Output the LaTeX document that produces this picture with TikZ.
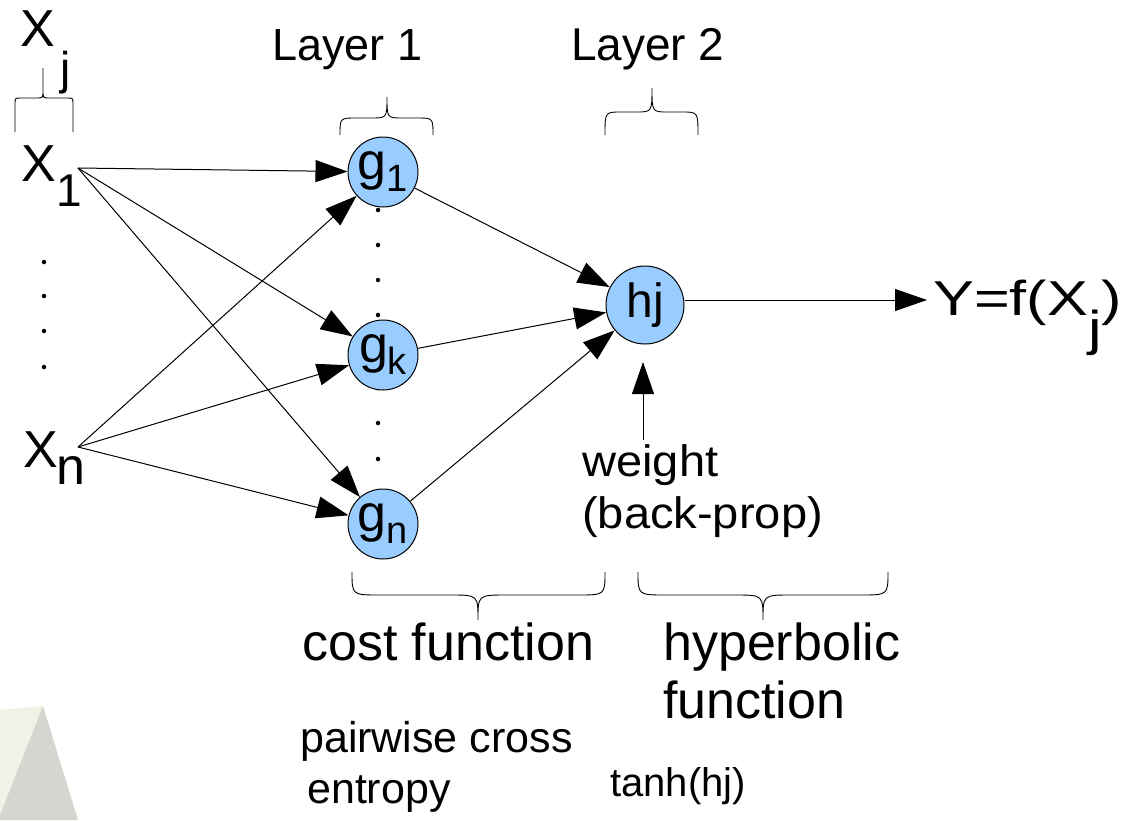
\documentclass[tikz,border=0pt]{standalone}
\usepackage{fontspec}
\setmainfont{Liberation Sans}
\usetikzlibrary{arrows.meta}
\definecolor{nodeblue}{RGB}{153,204,255}
\definecolor{trigray}{RGB}{214,214,208}
\definecolor{trilight}{RGB}{241,241,230}
\newcommand{\fsz}[1]{\fontsize{#1}{#1}\selectfont}
\begin{document}
\begin{tikzpicture}[x=1pt,y=-1pt,
  neuron/.style={circle, draw=black, line width=1pt, fill=nodeblue, inner sep=0pt, minimum size=70pt, font=\fsz{52}},
  conn/.style={line width=1pt, -{Triangle[length=32pt,width=22pt]}},
  brace/.style={line width=0.9pt},
  lbl/.style={anchor=base west, inner sep=0pt},
  dotmark/.style={circle, fill=black, inner sep=0pt, minimum size=4.5pt}]
\useasboundingbox (0,0) rectangle (1128,820);
% background decoration
\fill[trilight] (0,710) -- (43,706) -- (0,815) -- cycle;
\fill[trigray] (43,706) -- (78,820) -- (0,820) -- (0,815) -- cycle;

% dots between inputs
\foreach \yy/\nm in {262/a,296/b,331/c,367/d}
  \node[dotmark] (xd\nm) at (44,\yy) {};
% dots between layer-1 neurons
\foreach \yy/\nm in {210/a,245/b,280/c,315/d,388/e,423/f,459/g,495/h}
  \node[dotmark] (gd\nm) at (378,\yy) {};

% neurons
\node[neuron] (g1) at (383,172) {g\raisebox{-12pt}{\fsz{38}1}};
\node[neuron] (gk) at (383,355) {g\raisebox{-12pt}{\fsz{38}k}};
\node[neuron] (gn) at (383,524) {g\raisebox{-12pt}{\fsz{38}n}};
\node[neuron, minimum size=78pt, font=\fsz{48}] (hj) at (645,305) {hj};

% input labels
\node[lbl,font=\fsz{52}] (xj) at (20,46) {X};
\node[lbl,font=\fsz{46}] (xjsub) at (60,84) {j};
\node[lbl,font=\fsz{52}] (x1) at (21,181) {X};
\node[lbl,font=\fsz{46}] (x1sub) at (56,206) {1};
\node[lbl,font=\fsz{52}] (xn) at (23,467) {X};
\node[lbl,font=\fsz{52}] (xnsub) at (56,484) {n};
\coordinate (x1s) at (78,168);
\coordinate (xns) at (78,447);

% layer labels
\node[lbl,font=\fsz{45}] (layer1) at (272,60) {Layer 1};
\node[lbl,font=\fsz{46}] (layer2) at (571,60) {Layer 2};

% output
\node[lbl] (yout) at (933,315) {\scalebox{1.25}[1]{\fsz{49}Y=f(X\raisebox{-30pt}{j})}};
\coordinate (ytip) at (927,300);

% weight
\node[lbl] (weight) at (582,476) {\scalebox{1.07}[1]{\fsz{44}weight}};
\node[lbl] (backprop) at (582,528) {\scalebox{1.07}[1]{\fsz{44}(back-prop)}};
\coordinate (wstart) at (643,440);
\coordinate (wtip) at (643,362);

% bottom texts
\node[lbl,font=\fsz{52}] (cost) at (302,660) {cost function};
\node[lbl,font=\fsz{52}] (hyper) at (663,660) {hyperbolic};
\node[lbl,font=\fsz{52}] (hyperfn) at (663,718) {function};
\node[lbl,font=\fsz{43}] (pairwise) at (300,752) {pairwise cross};
\node[lbl,font=\fsz{43}] (entropy) at (307,803) {entropy};
\node[lbl,font=\fsz{40}] (tanh) at (610,796) {tanh(hj)};

% connectors
\draw[conn] (x1s) -- (g1);
\draw[conn] (x1s) -- (gk);
\draw[conn] (x1s) -- (gn);
\draw[conn] (xns) -- (g1);
\draw[conn] (xns) -- (gk);
\draw[conn] (xns) -- (gn);
\draw[conn] (g1) -- (hj);
\draw[conn] (gk) -- (hj);
\draw[conn] (gn) -- (hj);
\draw[conn] (hj.east |- ytip) -- (ytip);
\draw[conn] (wstart) -- (wtip);

% braces (top)
\draw[brace] (15,132) -- (15,104) .. controls (15,98) .. (21,98) -- (37,98) .. controls (43,98) .. (43,90) -- (43,68)
  (43,90) .. controls (43,98) .. (49,98) -- (67,98) .. controls (73,98) .. (73,104) -- (73,132);
\draw[brace] (340,135) .. controls (340,118) .. (356,118) -- (371,118) .. controls (387,118) .. (387,97)
  .. controls (387,118) .. (403,118) -- (417,118) .. controls (433,118) .. (433,135);
\draw[brace] (605,135) .. controls (605,112) .. (621,112) -- (636,112) .. controls (652,112) .. (652,88)
  .. controls (652,112) .. (668,112) -- (682,112) .. controls (698,112) .. (698,135);
% braces (bottom)
\draw[brace] (352,572) .. controls (352,595) .. (380,595) -- (450,595) .. controls (478,595) .. (478,620)
  .. controls (478,595) .. (506,595) -- (577,595) .. controls (605,595) .. (605,572);
\draw[brace] (638,572) .. controls (638,595) .. (666,595) -- (735,595) .. controls (763,595) .. (763,620)
  .. controls (763,595) .. (791,595) -- (860,595) .. controls (888,595) .. (888,572);
\end{tikzpicture}
\end{document}
